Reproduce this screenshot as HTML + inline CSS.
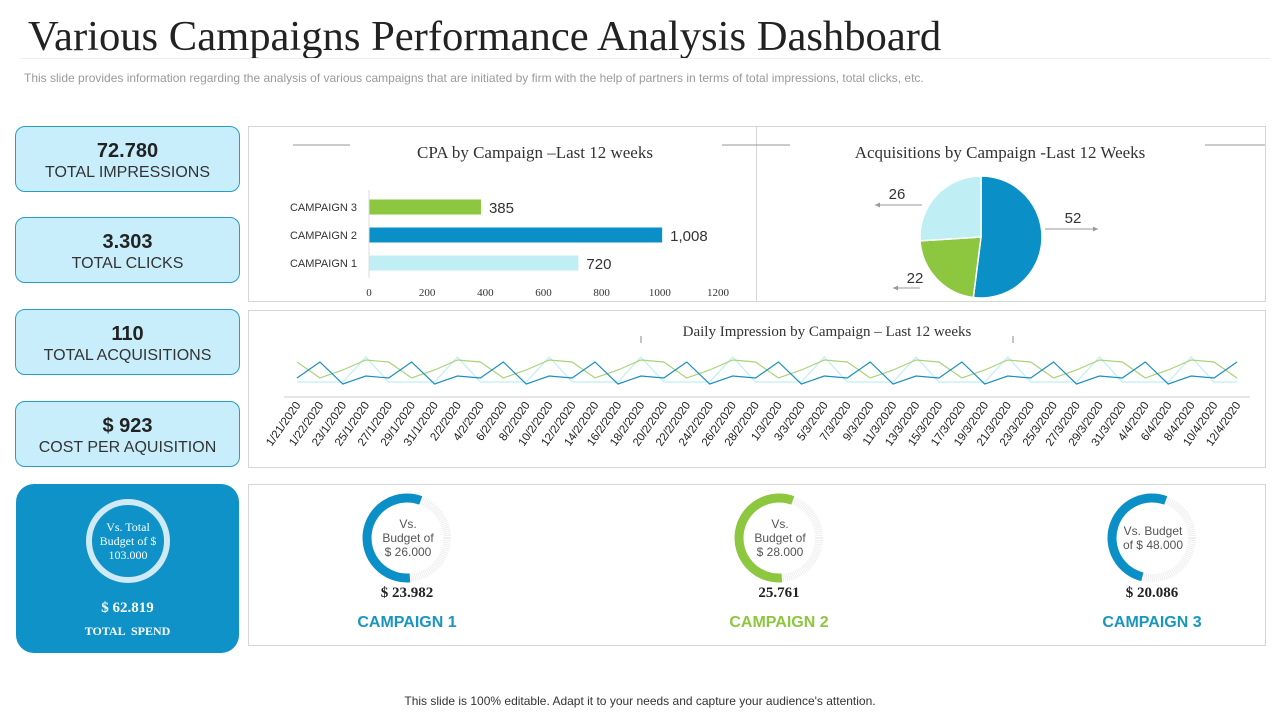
<!DOCTYPE html>
<html><head><meta charset="utf-8">
<style>
body{margin:0;width:1280px;height:720px;background:#fff;position:relative;overflow:hidden;font-family:"Liberation Sans",sans-serif}
.abs{position:absolute}
.kpi{position:absolute;left:15px;width:223px;height:64px;background:#c9eefb;border:1px solid #2a9cc4;border-radius:10px;text-align:center;color:#333}
.kpi b{display:block;font-size:20px;margin-top:13px;color:#222}
.kpi span{display:block;font-size:16px;margin-top:1px}
.panel{position:absolute;border:1px solid #d6d6d6;background:#fff}
</style></head><body>
<div class="abs" style="left:28px;top:12px;font-family:'Liberation Serif',serif;font-size:42.6px;color:#222;white-space:nowrap">Various Campaigns Performance Analysis Dashboard</div>
<div class="abs" style="left:20px;top:58px;width:1250px;height:1px;background:#eee"></div>
<div class="abs" style="left:24px;top:71px;font-size:12px;color:#9a9a9a;white-space:nowrap">This slide provides information regarding the analysis of various campaigns that are initiated by firm with the help of partners in terms of total impressions, total clicks, etc.</div>

<div class="kpi" style="top:126px"><b>72.780</b><span>TOTAL IMPRESSIONS</span></div>
<div class="kpi" style="top:217px"><b>3.303</b><span>TOTAL CLICKS</span></div>
<div class="kpi" style="top:309px"><b>110</b><span>TOTAL ACQUISITIONS</span></div>
<div class="kpi" style="top:401px"><b>$ 923</b><span>COST PER AQUISITION</span></div>

<div class="abs" style="left:16px;top:484px;width:223px;height:169px;background:#0f92c8;border-radius:18px;color:#fff;text-align:center;font-family:'Liberation Serif',serif">
<svg class="abs" style="left:67px;top:13px" width="90" height="90"><circle cx="45" cy="44" r="39" fill="none" stroke="#cfe9f5" stroke-width="6"/></svg>
<div class="abs" style="left:82px;top:36px;width:60px;font-size:12px;line-height:14px">Vs. Total Budget of $ 103.000</div>
<div class="abs" style="left:0;top:116px;width:223px;font-size:15px;font-weight:bold">$ 62.819</div>
<div class="abs" style="left:0;top:140px;width:223px;font-size:12px;font-weight:bold">TOTAL &nbsp;SPEND</div>
</div>

<div class="panel" style="left:248px;top:126px;width:508px;height:174px"></div>
<div class="panel" style="left:756px;top:126px;width:508px;height:174px"></div>
<div class="panel" style="left:248px;top:310px;width:1016px;height:156px"></div>
<div class="panel" style="left:248px;top:484px;width:1016px;height:160px"></div>

<svg class="abs" style="left:0;top:0" width="1280" height="720" id="charts">
<g font-family="Liberation Serif,serif" font-size="17" fill="#333">
<text x="535" y="158" text-anchor="middle">CPA by Campaign –Last 12 weeks</text>
<text x="1000" y="158" text-anchor="middle">Acquisitions by Campaign -Last 12 Weeks</text>
<text x="827" y="336" text-anchor="middle" font-size="15">Daily  Impression  by Campaign  –  Last 12 weeks</text>
</g>
<g stroke="#999" stroke-width="1">
<line x1="293" y1="145" x2="350" y2="145"/><line x1="722" y1="145" x2="790" y2="145"/><line x1="1205" y1="145" x2="1265" y2="145"/>
</g>
<g id="bars"></g><g id="pie"></g><g id="lines"></g><g id="donuts"></g>
</svg>

<div class="abs" style="left:0;top:694px;width:1280px;text-align:center;font-size:12px;color:#333">This slide is 100% editable. Adapt it to your needs and capture your audience's attention.</div>

<script>
const barCats=["CAMPAIGN 1","CAMPAIGN 2","CAMPAIGN 3"];
const barVals=[720,1008,385];
const barLabels=["720","1,008","385"];
const barTicks=[0,200,400,600,800,1000,1200];
const pieVals=[52,22,26];
const pieLabels=["52","22","26"];
const dates=["1/21/2020","1/22/2020","23/1/2020","25/1/2020","27/1/2020","29/1/2020","31/1/2020","2/2/2020","4/2/2020","6/2/2020","8/2/2020","10/2/2020","12/2/2020","14/2/2020","16/2/2020","18/2/2020","20/2/2020","22/2/2020","24/2/2020","26/2/2020","28/2/2020","1/3/2020","3/3/2020","5/3/2020","7/3/2020","9/3/2020","11/3/2020","13/3/2020","15/3/2020","17/3/2020","19/3/2020","21/3/2020","23/3/2020","25/3/2020","27/3/2020","29/3/2020","31/3/2020","4/4/2020","6/4/2020","8/4/2020","10/4/2020","12/4/2020"];
const seriesDark=[17,33,11,19,17,33,11,19,17,33,11,19,17,33,11,19,17,33,11,19,17,33,11,19,17,33,11,19,17,33,11,19,17,33,11,19,17,33,11,19,17,33];
const seriesGreen=[33,17,25,35,33,17,25,35,33,17,25,35,33,17,25,35,33,17,25,35,33,17,25,35,33,17,25,35,33,17,25,35,33,17,25,35,33,17,25,35,33,17];
const seriesLight=[13,13,13,38,13,13,13,38,13,13,13,38,13,13,13,38,13,13,13,38,13,13,13,38,13,13,13,38,13,13,13,38,13,13,13,38,13,13,13,38,13,13];
const budgetNames=["CAMPAIGN 1","CAMPAIGN 2","CAMPAIGN 3"];
const budgetText=[["Vs.","Budget of","$ 26.000"],["Vs.","Budget of","$ 28.000"],["Vs. Budget","of $ 48.000"]];
const budgetSpent=[23982,25761,20086];
const budgetTotal=[26000,28000,48000];
const budgetValLabels=["$ 23.982","25.761","$ 20.086"];

const NS="http://www.w3.org/2000/svg";
function mk(parent,tag,attrs,txt){const e=document.createElementNS(NS,tag);for(const k in attrs)e.setAttribute(k,attrs[k]);if(txt!==undefined)e.textContent=txt;parent.appendChild(e);return e;}
const colors=["#bfeef5","#0a8fc6","#8dc63f"];

// Bar chart
const bx=v=>369+v*(718-369)/1200;
const by=i=>263-i*28;
const gb=document.getElementById('bars');
barTicks.forEach(t=>{const e=mk(gb,'text',{x:bx(t),y:296,'text-anchor':'middle','font-size':11,'font-family':'Liberation Serif,serif',fill:'#333'},t);

});
barCats.forEach((c,i)=>{
 const l=mk(gb,'text',{x:357,y:by(i)+4,'text-anchor':'end','font-size':11,fill:'#333'},c);
 
 
 const r=mk(gb,'rect',{x:bx(0),y:by(i)-7.5,width:bx(barVals[i])-bx(0),height:15,fill:colors[i]});
 
 
 const v=mk(gb,'text',{x:bx(barVals[i])+8,y:by(i)+6,'font-size':15,fill:'#333'},barLabels[i]);
 
 
});
mk(gb,'line',{x1:369,y1:190,x2:369,y2:278,stroke:'#ddd'});

// Pie
const gp=document.getElementById('pie');
const cx=981,cy=237,R=61;const pc=["#0a8fc6","#8dc63f","#bfeef5"];
const tot=pieVals.reduce((a,b)=>a+b,0);let a0=-Math.PI/2;
const lblPos=[[1073,223,1045,1098,229],[915,283,920,893,288],[897,199,922,875,205]];
pieVals.forEach((v,i)=>{
 const a1=a0+v/tot*2*Math.PI;
 const p=`M${cx},${cy}L${cx+R*Math.cos(a0)},${cy+R*Math.sin(a0)}A${R},${R} 0 ${a1-a0>Math.PI?1:0} 1 ${cx+R*Math.cos(a1)},${cy+R*Math.sin(a1)}Z`;
 const s=mk(gp,'path',{d:p,fill:pc[i],stroke:'#fff','stroke-width':1.5});
 
 
 const L=lblPos[i];
 mk(gp,'line',{x1:L[2],y1:L[4],x2:L[3],y2:L[4],stroke:'#999'});
 const dir=L[3]>L[2]?-1:1;
 mk(gp,'path',{d:`M${L[3]},${L[4]}l${dir*5},-2.5v5z`,fill:'#999'});
 const t=mk(gp,'text',{x:L[0],y:L[1],'text-anchor':'middle','font-size':15,fill:'#333'},pieLabels[i]);
 
 
 a0=a1;
});

// Lines
const gl=document.getElementById('lines');
const lx=i=>297+i*(1237-297)/(dates.length-1);
const ly=v=>395-v;
mk(gl,'line',{x1:284,y1:397,x2:1250,y2:397,stroke:'#ccc'});
mk(gl,'line',{x1:641,y1:336,x2:641,y2:343,stroke:'#888'});
mk(gl,'line',{x1:1013,y1:336,x2:1013,y2:343,stroke:'#888'});
[[seriesLight,'#bfeef5','line-light'],[seriesGreen,'#a9d37a','line-green'],[seriesDark,'#1a8fc0','line-dark']].forEach(([s,c,n])=>{
 const pl=mk(gl,'polyline',{points:s.map((v,i)=>lx(i)+','+ly(v)).join(' '),fill:'none',stroke:c,'stroke-width':1.2});
 
 
});
dates.forEach((d,i)=>{
 const t=mk(gl,'text',{x:lx(i)+4,y:405,'text-anchor':'end','font-size':11.5,fill:'#222','font-family':'Liberation Sans Narrow,Liberation Sans,sans-serif',transform:`rotate(-55 ${lx(i)+4} 405)`},d);
 
 
});

// Budget donuts
const gd=document.getElementById('donuts');
const dcx=[407,779,1152],dc=["#0a8fc6","#8dc63f","#0a8fc6"],nc=["#1a95c0","#8dc63f","#1a95c0"];
budgetNames.forEach((n,i)=>{
 const x=dcx[i],y=538,r=40;
 mk(gd,'circle',{cx:x,cy:y,r:r,fill:'none',stroke:'#eee','stroke-width':8,'stroke-dasharray':'1 1'});
 const frac=budgetSpent[i]/budgetTotal[i];
 const ang=Math.PI*(0.95+0.2*frac);
 const s=-Math.PI/2+0.35, e=s-ang;
 const p=`M${x+r*Math.cos(s)},${y+r*Math.sin(s)}A${r},${r} 0 ${ang>Math.PI?1:0} 0 ${x+r*Math.cos(e)},${y+r*Math.sin(e)}`;
 const arc=mk(gd,'path',{d:p,fill:'none',stroke:dc[i],'stroke-width':9});
 
 
 const lines=budgetText[i];const y0=y-(lines.length-1)*7+4;
 lines.forEach((t,k)=>mk(gd,'text',{x:x+1,y:y0+k*14,'text-anchor':'middle','font-size':12,fill:'#555'},t));
 const v=mk(gd,'text',{x:x,y:597,'text-anchor':'middle','font-size':15,'font-weight':'bold','font-family':'Liberation Serif,serif',fill:'#222'},budgetValLabels[i]);
 
 
 const c=mk(gd,'text',{x:x,y:627,'text-anchor':'middle','font-size':16,'font-weight':'bold',fill:nc[i]},n);
 
 
});
</script>
</body></html>
